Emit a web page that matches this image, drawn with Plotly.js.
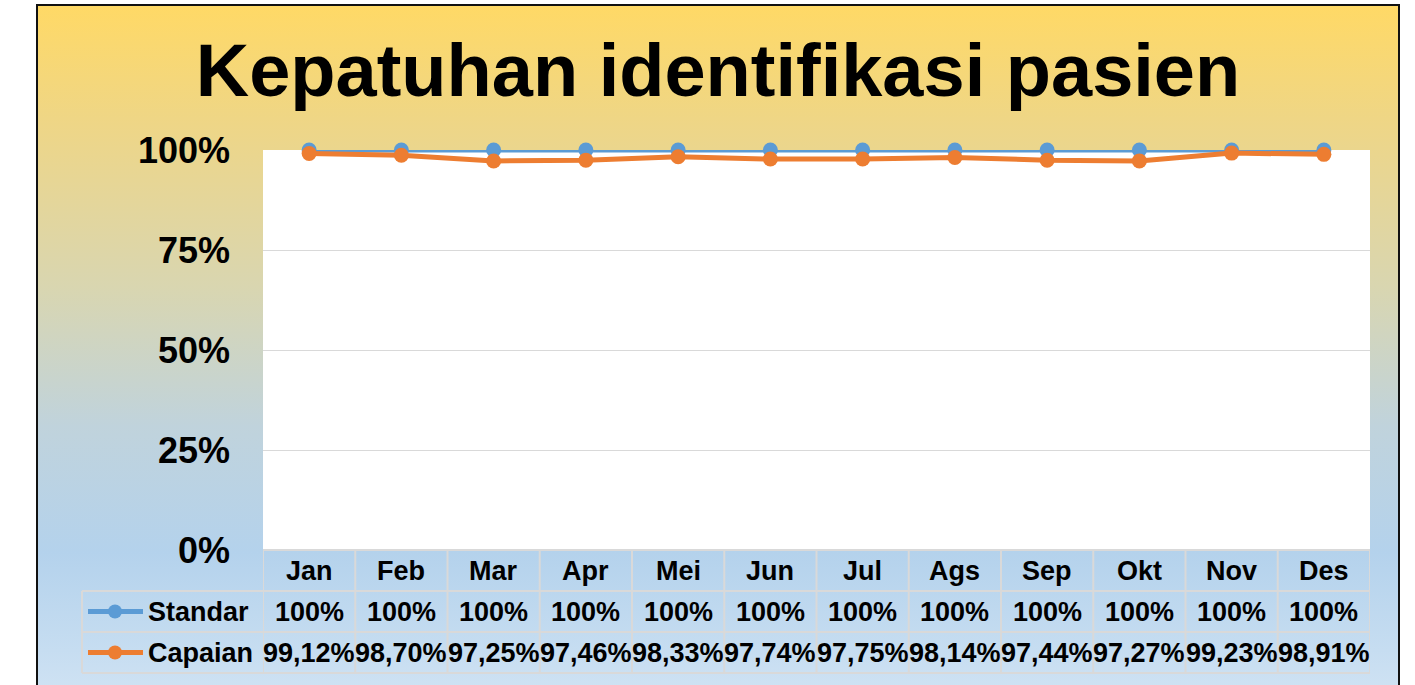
<!DOCTYPE html>
<html><head><meta charset="utf-8">
<script src="https://cdn.plot.ly/plotly-3.0.1.min.js"></script>
<style>
html,body{margin:0;padding:0;width:1415px;height:685px;overflow:hidden;background:#fff;}
#frame{position:absolute;left:36px;top:4px;width:1360px;height:700px;border:2px solid #111;
 background:linear-gradient(to bottom,#FFD966 0%,#EFD685 16%,#D9D6B0 40%,#C0D3DC 60%,#B4D2EC 78%,#C6DDF1 92%,#D2E4F4 100%);}
#chart{position:absolute;left:0;top:0;width:1415px;height:685px;}
</style></head>
<body>
<div id="frame"></div>
<div id="chart"></div>
<script>
const months = ["Jan","Feb","Mar","Apr","Mei","Jun","Jul","Ags","Sep","Okt","Nov","Des"];
const standar = [1,1,1,1,1,1,1,1,1,1,1,1];
const capaian = [0.9912,0.9870,0.9725,0.9746,0.9833,0.9774,0.9775,0.9814,0.9744,0.9727,0.9923,0.9891];
const seriesNames = ["Standar","Capaian"];
const seriesColors = ["#5B9BD5","#ED7D31"];
const titleText = "Kepatuhan identifikasi pasien";

const FONT = "Liberation Sans, Arial, sans-serif";
const xs = months.map((m,i)=>i);
const plotH = 400, plotW = 1107;
const rowH = 41/plotH;

function fmt(v){
  if (v === 1) return "100%";
  return (v*100).toFixed(2).replace(".", ",") + "%";
}

const traces = [standar, capaian].map((vals,k)=>({
  type:"scatter", mode:"lines+markers", x:xs, y:vals, name:seriesNames[k],
  line:{color:seriesColors[k], width:5},
  marker:{color:seriesColors[k], size:15},
  cliponaxis:false, showlegend:false, hoverinfo:"skip"
}));

const annotations = [];
const shapes = [];
const gridColor = "#D9D9D9";
months.forEach((m,i)=>{
  annotations.push({xref:"x", yref:"paper", x:i, y:-rowH*0.5, text:m, showarrow:false,
    font:{family:FONT, size:27, weight:"bold", color:"#000"}, xanchor:"center", yanchor:"middle"});
});
const rows = [standar, capaian];
rows.forEach((vals,r)=>{
  const yc = -rowH*(r+1.5);
  vals.forEach((v,i)=>{
    annotations.push({xref:"x", yref:"paper", x:i, y:yc, text:fmt(v), showarrow:false,
      font:{family:FONT, size:27, weight:"bold", color:"#000"}, xanchor:"center", yanchor:"middle"});
  });
  annotations.push({xref:"paper", yref:"paper", x:(146-263)/plotW, y:yc, text:seriesNames[r], showarrow:false,
    font:{family:FONT, size:27, weight:"bold", color:"#000"}, xanchor:"left", yanchor:"middle"});
  shapes.push({type:"line", xref:"paper", yref:"paper", x0:(88-263)/plotW, x1:(143-263)/plotW, y0:yc, y1:yc,
    line:{color:seriesColors[r], width:5}});
  const cx=(115-263)/plotW, rr=7/plotW, ry=7/plotH;
  shapes.push({type:"circle", xref:"paper", yref:"paper", x0:cx-rr, x1:cx+rr, y0:yc-ry, y1:yc+ry,
    fillcolor:seriesColors[r], line:{width:0}});
});
const legLeft = (82-263)/plotW;
for (let k=0;k<=3;k++){
  const y = -rowH*k;
  shapes.push({type:"line", xref:"paper", yref:"paper", x0:(k===0?0:legLeft), x1:1, y0:y, y1:y,
    line:{color:gridColor, width:2}});
}
for (let i=0;i<=months.length;i++){
  shapes.push({type:"line", xref:"x", yref:"paper", x0:i-0.5, x1:i-0.5, y0:0, y1:-rowH*3,
    line:{color:gridColor, width:2}});
}
shapes.push({type:"line", xref:"paper", yref:"paper", x0:legLeft, x1:legLeft, y0:-rowH, y1:-rowH*3,
  line:{color:gridColor, width:2}});

const layout = {
  width:1415, height:685,
  margin:{l:263, r:45, t:150, b:135, pad:0},
  paper_bgcolor:"rgba(0,0,0,0)", plot_bgcolor:"#fff",
  title:{text:titleText, font:{family:FONT, size:74, weight:"bold", color:"#000"},
    xref:"container", yref:"container", x:718/1415, y:1-70/685, xanchor:"center", yanchor:"middle"},
  xaxis:{range:[-0.5, months.length-0.5], showticklabels:false, showgrid:false, zeroline:false, fixedrange:true},
  yaxis:{range:[0,1], tickvals:[0,0.25,0.5,0.75,1], tickformat:".0%", showgrid:true, gridcolor:gridColor, gridwidth:1,
    zeroline:false, ticks:"", ticklabelstandoff:32,
    tickfont:{family:FONT, size:36, weight:"bold", color:"#000"}, fixedrange:true},
  annotations, shapes, showlegend:false
};
Plotly.newPlot("chart", traces, layout, {displayModeBar:false, staticPlot:true});
</script>
</body></html>
